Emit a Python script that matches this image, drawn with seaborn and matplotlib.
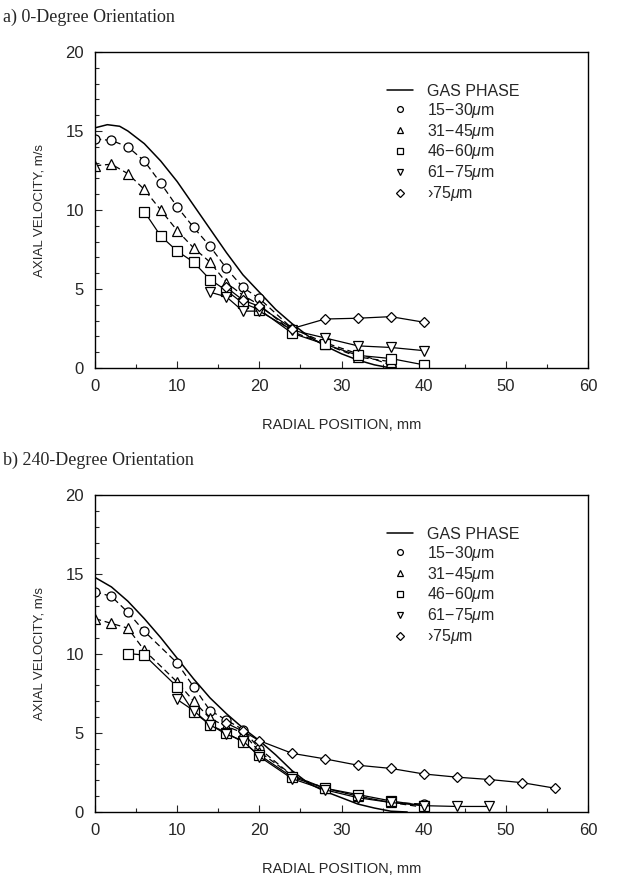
import matplotlib
matplotlib.use("Agg")
import matplotlib.pyplot as plt
from matplotlib.lines import Line2D
from matplotlib.ticker import MultipleLocator
import seaborn as sns

# ---------------- data: a) 0-degree orientation ----------------
a_gas_x = [0, 1.5, 3, 4, 6, 8, 10, 12, 14, 16, 18, 20, 22, 24, 26, 28, 30, 32, 34, 36]
a_gas_y = [15.2, 15.4, 15.3, 15.0, 14.2, 13.1, 11.8, 10.3, 8.8, 7.3, 5.9, 4.8, 3.7, 2.8, 2.0, 1.4, 0.9, 0.5, 0.2, 0.0]

a_c_x = [0, 2, 4, 6, 8, 10, 12, 14, 16, 18, 20, 24, 28, 32, 36]
a_c_y = [14.5, 14.4, 14.0, 13.1, 11.7, 10.2, 8.9, 7.7, 6.3, 5.1, 4.4, 2.5, 1.6, 0.9, 0.2]

a_t_x = [0, 2, 4, 6, 8, 10, 12, 14, 16, 18, 20, 24, 28, 32, 36]
a_t_y = [12.8, 12.9, 12.3, 11.3, 10.0, 8.7, 7.6, 6.7, 5.4, 4.6, 4.0, 2.3, 1.5, 0.7, 0.4]

a_s_x = [6, 8, 10, 12, 14, 16, 18, 20, 24, 28, 32, 36, 40]
a_s_y = [9.9, 8.35, 7.4, 6.7, 5.6, 4.9, 4.1, 3.7, 2.2, 1.5, 0.8, 0.6, 0.2]

a_v_x = [14, 16, 18, 20, 24, 28, 32, 36, 40]
a_v_y = [4.8, 4.5, 3.6, 3.6, 2.4, 1.9, 1.4, 1.3, 1.1]

a_d_x = [16, 18, 20, 24, 28, 32, 36, 40]
a_d_y = [5.1, 4.3, 3.9, 2.5, 3.1, 3.15, 3.25, 2.9]

# ---------------- data: b) 240-degree orientation ----------------
b_gas_x = [0, 2, 4, 6, 8, 10, 12, 14, 16, 18, 20, 22, 24, 26, 28, 30, 32, 34, 36, 38]
b_gas_y = [14.8, 14.2, 13.3, 12.2, 11.0, 9.7, 8.4, 7.2, 6.2, 5.3, 4.5, 3.6, 2.6, 1.8, 1.3, 0.9, 0.5, 0.25, 0.05, 0.0]

b_c_x = [0, 2, 4, 6, 10, 12, 14, 16, 18, 20, 24, 28, 32, 36, 40]
b_c_y = [13.9, 13.6, 12.6, 11.4, 9.4, 7.9, 6.4, 5.8, 5.2, 4.0, 2.3, 1.5, 1.0, 0.6, 0.5]

b_t_x = [0, 2, 4, 6, 10, 12, 14, 16, 18, 20, 24, 28, 32, 36, 40]
b_t_y = [12.2, 11.9, 11.6, 10.2, 8.2, 7.0, 5.9, 5.4, 5.0, 3.8, 2.3, 1.5, 1.0, 0.6, 0.3]

b_s_x = [4, 6, 10, 12, 14, 16, 18, 20, 24, 28, 32, 36, 40]
b_s_y = [10.0, 9.9, 7.9, 6.3, 5.5, 5.0, 4.4, 3.6, 2.2, 1.5, 1.1, 0.7, 0.4]

b_v_x = [10, 12, 14, 16, 18, 20, 24, 28, 32, 36, 40, 44, 48]
b_v_y = [7.1, 6.4, 5.5, 4.9, 4.5, 3.5, 2.1, 1.4, 0.9, 0.6, 0.4, 0.35, 0.35]

b_d_x = [16, 18, 20, 24, 28, 32, 36, 40, 44, 48, 52, 56]
b_d_y = [5.6, 5.1, 4.5, 3.7, 3.35, 2.95, 2.75, 2.4, 2.2, 2.05, 1.85, 1.5]

legend_labels = ["GAS PHASE", "15$-$30$\\mu$m", "31$-$45$\\mu$m",
                 "46$-$60$\\mu$m", "61$-$75$\\mu$m", "\u203a75$\\mu$m"]
titles = ["a) 0-Degree Orientation", "b) 240-Degree Orientation"]
x_ticks = [0, 10, 20, 30, 40, 50, 60]
y_ticks = [0, 5, 10, 15, 20]

sns.set_style("ticks")
plt.rcParams['font.family'] = ['Liberation Sans', 'DejaVu Sans']
plt.rcParams['mathtext.fontset'] = 'custom'
plt.rcParams['mathtext.it'] = 'Liberation Sans:italic'
plt.rcParams['mathtext.rm'] = 'Liberation Sans'

fig = plt.figure(figsize=(6.2, 8.77), dpi=100)

mk = dict(markersize=6.5, markerfacecolor='white', markeredgecolor='black',
          markeredgewidth=0.9, color='black', linewidth=0.9)

series_style = [
    ('o', (0, (5, 3))),
    ('^', (0, (5, 3))),
    ('s', '-'),
    ('v', '-'),
    ('D', '-'),
]

datasets = [
    (a_gas_x, a_gas_y, [(a_c_x, a_c_y), (a_t_x, a_t_y), (a_s_x, a_s_y), (a_v_x, a_v_y), (a_d_x, a_d_y)]),
    (b_gas_x, b_gas_y, [(b_c_x, b_c_y), (b_t_x, b_t_y), (b_s_x, b_s_y), (b_v_x, b_v_y), (b_d_x, b_d_y)]),
]

ax_rects = [[95/620, 1-368/877, 493/620, 316/877],
            [95/620, 1-812/877, 493/620, 317/877]]
title_y = [1-17/877, 1-460/877]

for i, (gx, gy, ser) in enumerate(datasets):
    ax = fig.add_axes(ax_rects[i])
    sns.lineplot(x=gx, y=gy, ax=ax, color='black', linewidth=1.1, sort=False)
    for (sx, sy), (m, ls) in zip(ser, series_style):
        ms = mk.copy()
        if m == 'D':
            ms['markersize'] = 5.5
        sns.lineplot(x=sx, y=sy, ax=ax, marker=m, linestyle=ls, sort=False, **ms)
    ax.set_xlim(0, 60)
    ax.set_ylim(0, 20)
    ax.set_xticks(x_ticks)
    ax.set_yticks(y_ticks)
    ax.xaxis.set_minor_locator(MultipleLocator(5))
    ax.yaxis.set_minor_locator(MultipleLocator(1))
    ax.tick_params(which='both', direction='in', top=False, right=False,
                   labelsize=12, width=0.8)
    ax.tick_params(which='major', length=5, pad=8)
    ax.tick_params(which='minor', length=3)
    for sp in ax.spines.values():
        sp.set_linewidth(1.0)
        sp.set_color('black')
    ax.set_xlabel("RADIAL POSITION, mm", fontsize=10.5, labelpad=17)
    ax.set_ylabel("AXIAL VELOCITY, m/s", fontsize=9.5, labelpad=14)

    handles = [Line2D([], [], color='black', linewidth=1.1)]
    for m, _ in series_style:
        handles.append(Line2D([], [], marker=m, linestyle='none', markersize=4.2,
                              markerfacecolor='white', markeredgecolor='black',
                              markeredgewidth=0.9))
    ax.legend(handles, legend_labels, loc='upper left', bbox_to_anchor=(0.58, 0.92),
              frameon=False, fontsize=11.5, handlelength=1.6, handletextpad=0.9,
              labelspacing=0.12, borderaxespad=0)

    fig.text(0.005, title_y[i], titles[i], family=['Liberation Serif', 'DejaVu Serif'],
             fontsize=13, va='center', ha='left')

fig.savefig("out.png", dpi=100)
